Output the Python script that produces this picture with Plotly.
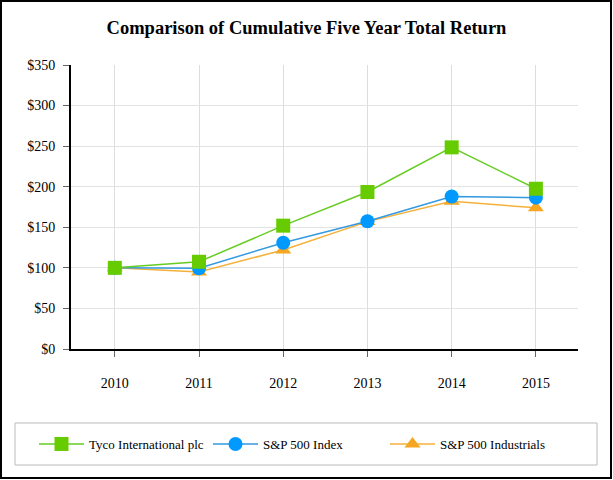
import plotly.graph_objects as go

years = ["2010", "2011", "2012", "2013", "2014", "2015"]
tyco = [100, 107.5, 152, 193.5, 248.5, 197.5]
sp500 = [100, 99.5, 131, 157.5, 188, 186.5]
industrials = [100, 95, 122, 157, 182, 174]
y_ticks = [0, 50, 100, 150, 200, 250, 300, 350]
y_tick_text = ["$" + str(v) for v in y_ticks]

FONT = "Liberation Serif, Times New Roman, serif"

fig = go.Figure()
fig.add_trace(go.Scatter(
    x=years, y=industrials, name="S&P 500 Industrials", mode="lines+markers",
    line=dict(color="#f5b03a", width=1.5),
    marker=dict(symbol="triangle-up", size=14, color="#f5a623", line=dict(width=0)),
    legend="legend3",
))
fig.add_trace(go.Scatter(
    x=years, y=sp500, name="S&P 500 Index", mode="lines+markers",
    line=dict(color="#3399e0", width=1.5),
    marker=dict(symbol="circle", size=14, color="#0099ff", line=dict(width=0)),
    legend="legend2",
))
fig.add_trace(go.Scatter(
    x=years, y=tyco, name="Tyco International plc", mode="lines+markers",
    line=dict(color="#66cc22", width=1.5),
    marker=dict(symbol="square", size=14, color="#66cc00", line=dict(width=0)),
    legend="legend",
))

W, H = 613, 480
L, R, T, B = 71, 578, 65, 349


def px(x):
    return (x - L) / (R - L)


def py(y):
    return (B - y) / (B - T)


shapes = [
    dict(type="rect", xref="paper", yref="paper", x0=px(1), x1=px(611), y0=py(1), y1=py(478),
         line=dict(color="black", width=2), fillcolor="rgba(0,0,0,0)", layer="below"),
    dict(type="rect", xref="paper", yref="paper", x0=px(15), x1=px(597), y0=py(423), y1=py(465),
         line=dict(color="#bbbbbb", width=1), fillcolor="rgba(0,0,0,0)", layer="below"),
]


def leg(xpix):
    return dict(orientation="h", xref="container", yref="container",
                x=xpix / W, xanchor="left", y=1 - 444 / H, yanchor="middle",
                itemwidth=45, font=dict(family=FONT, size=13), bgcolor="rgba(0,0,0,0)")


fig.update_layout(
    width=W, height=H,
    margin=dict(l=L, r=W - R, t=T, b=H - B, autoexpand=False),
    paper_bgcolor="white", plot_bgcolor="white",
    font=dict(family=FONT, size=14, color="black"),
    title=dict(text="<b>Comparison of Cumulative Five Year Total Return</b>",
               x=0.5, xanchor="center", y=1 - 28 / H, yanchor="middle",
               font=dict(family=FONT, size=18.5, color="black")),
    xaxis=dict(type="category", range=[-0.52, 5.5], showgrid=True, gridcolor="#dddddd",
               gridwidth=1, showline=True, linecolor="black", linewidth=2,
               ticks="outside", ticklen=6, tickcolor="#666666", ticklabelstandoff=14,
               tickfont=dict(family=FONT, size=14), zeroline=False),
    yaxis=dict(range=[0, 350], tickvals=y_ticks, ticktext=y_tick_text, showgrid=True,
               gridcolor="#e3e3e3", gridwidth=1, showline=True, linecolor="black", linewidth=2,
               ticks="outside", ticklen=6, tickcolor="#666666", ticklabelstandoff=5,
               tickfont=dict(family=FONT, size=14), zeroline=False),
    legend=leg(34),
    legend2=leg(208),
    legend3=leg(385),
    shapes=shapes,
    showlegend=True,
)

fig.write_html("out.html", config={"displayModeBar": False},
               post_script="document.body.style.margin='0';document.body.style.overflow='hidden';")
